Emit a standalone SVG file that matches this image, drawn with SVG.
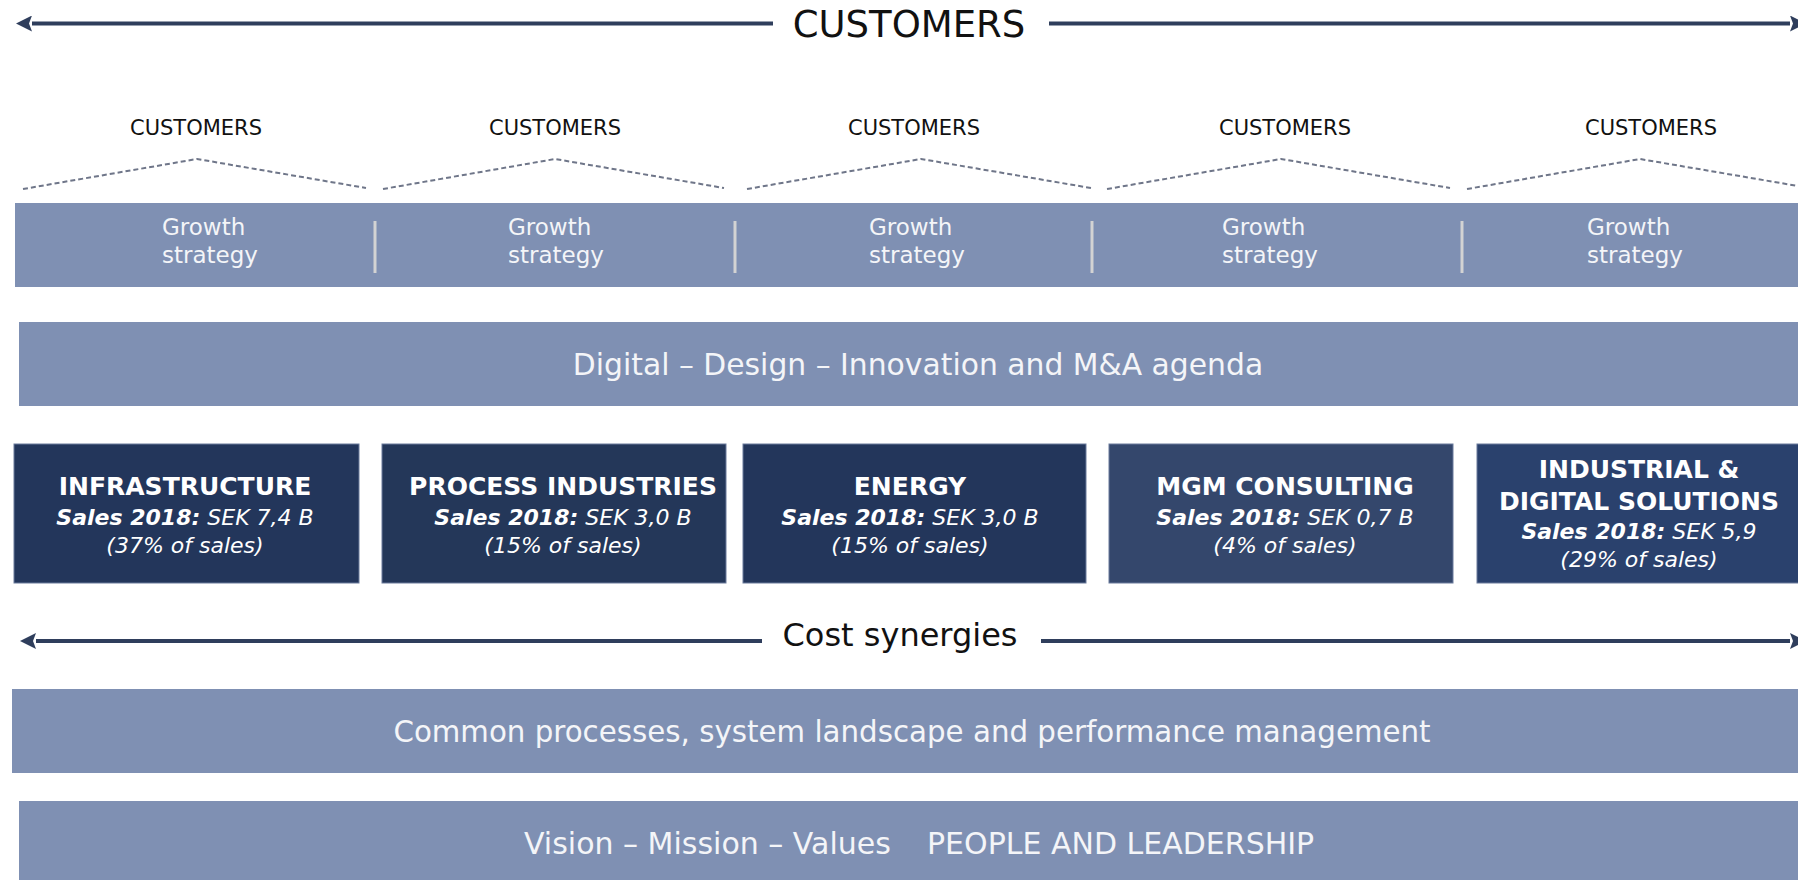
<svg xmlns="http://www.w3.org/2000/svg" width="1798" height="880" viewBox="0 0 1798 880">
  <style>
    .band { fill: #7f90b3; }
    .band-text { font-family: "DejaVu Sans", Verdana, sans-serif; fill: #f4f5f8; text-anchor: middle; }
    .band-text.left { text-anchor: start; }
    .growth-text { font-family: "DejaVu Sans", Verdana, sans-serif; font-size: 23px; fill: #f4f5f8; }
    .sep { stroke: #d3d3d3; stroke-width: 3; }
    .label { font-family: "DejaVu Sans", Verdana, sans-serif; fill: #111111; text-anchor: middle; }
    .chev { fill: none; stroke: #6f7689; stroke-width: 2; stroke-dasharray: 5 3; }
    .axis { stroke: #2f3e5c; stroke-width: 4; fill: none; marker-end: url(#arrow); }
    .unit { stroke: #6a7b9c; stroke-width: 1; }
    .unit-text { font-family: "DejaVu Sans", Verdana, sans-serif; fill: #ffffff; text-anchor: middle; font-size: 22px; }
    .title { font-weight: bold; font-size: 25px; }
    .it { font-style: italic; }
    .bi { font-style: italic; font-weight: bold; }
  </style>
  <defs>
    <marker id="arrow" viewBox="0 0 16 16" refX="0" refY="8" markerWidth="16" markerHeight="16" markerUnits="userSpaceOnUse" orient="auto">
      <path d="M0,0 L16,8 L0,16 L3,8 Z" fill="#2f3e5c"/>
    </marker>
  </defs>

  <!-- connectors: customer axis, cost-synergy axis and customer chevrons -->
  <g id="connectors">
    <line class="axis" x1="773" y1="23.5" x2="32" y2="23.5"/>
    <line class="axis" x1="1049" y1="23.5" x2="1790" y2="23.5"/>
    <line class="axis" x1="762" y1="641" x2="36" y2="641"/>
    <line class="axis" x1="1041" y1="641" x2="1790" y2="641"/>
    <polyline class="chev" points="23,189 197,159 366,188"/>
    <polyline class="chev" points="383,189 555,159 724,188"/>
    <polyline class="chev" points="747,189 921,159 1091,188"/>
    <polyline class="chev" points="1107,189 1281,159 1450,188"/>
    <polyline class="chev" points="1467,189 1640,159 1798,186"/>
  </g>

  <g id="customers-axis-label">
    <text class="label" x="909" y="37" font-size="37">CUSTOMERS</text>
  </g>

  <g id="customer-labels">
    <text class="label" x="196" y="135" font-size="21">CUSTOMERS</text>
    <text class="label" x="555" y="135" font-size="21">CUSTOMERS</text>
    <text class="label" x="914" y="135" font-size="21">CUSTOMERS</text>
    <text class="label" x="1285" y="135" font-size="21">CUSTOMERS</text>
    <text class="label" x="1651" y="135" font-size="21">CUSTOMERS</text>
  </g>

  <g id="growth-strategy">
    <rect class="band" x="15" y="203" width="1783" height="84"/>
    <line class="sep" x1="375" y1="221" x2="375" y2="273"/>
    <line class="sep" x1="735" y1="221" x2="735" y2="273"/>
    <line class="sep" x1="1092" y1="221" x2="1092" y2="273"/>
    <line class="sep" x1="1462" y1="221" x2="1462" y2="273"/>
    <text class="growth-text" x="162" y="235">Growth<tspan x="162" y="263">strategy</tspan></text>
    <text class="growth-text" x="508" y="235">Growth<tspan x="508" y="263">strategy</tspan></text>
    <text class="growth-text" x="869" y="235">Growth<tspan x="869" y="263">strategy</tspan></text>
    <text class="growth-text" x="1222" y="235">Growth<tspan x="1222" y="263">strategy</tspan></text>
    <text class="growth-text" x="1587" y="235">Growth<tspan x="1587" y="263">strategy</tspan></text>
  </g>

  <g id="digital-agenda">
    <rect class="band" x="19" y="322" width="1779" height="84"/>
    <text class="band-text" x="918" y="375" font-size="29.8">Digital – Design – Innovation and M&amp;A agenda</text>
  </g>

  <g id="infrastructure">
    <rect class="unit" x="14" y="444" width="345" height="139" fill="#23365b"/>
    <text class="unit-text" x="185" y="495"><tspan class="title">INFRASTRUCTURE</tspan></text>
    <text class="unit-text" x="185" y="525"><tspan class="bi">Sales 2018:</tspan><tspan class="it"> SEK 7,4 B</tspan></text>
    <text class="unit-text it" x="185" y="553">(37% of sales)</text>
  </g>

  <g id="process-industries">
    <rect class="unit" x="382" y="444" width="344" height="139" fill="#243759"/>
    <text class="unit-text" x="563" y="495"><tspan class="title">PROCESS INDUSTRIES</tspan></text>
    <text class="unit-text" x="563" y="525"><tspan class="bi">Sales 2018:</tspan><tspan class="it"> SEK 3,0 B</tspan></text>
    <text class="unit-text it" x="563" y="553">(15% of sales)</text>
  </g>

  <g id="energy">
    <rect class="unit" x="743" y="444" width="343" height="139" fill="#23365b"/>
    <text class="unit-text" x="910" y="495"><tspan class="title">ENERGY</tspan></text>
    <text class="unit-text" x="910" y="525"><tspan class="bi">Sales 2018:</tspan><tspan class="it"> SEK 3,0 B</tspan></text>
    <text class="unit-text it" x="910" y="553">(15% of sales)</text>
  </g>

  <g id="mgm-consulting">
    <rect class="unit" x="1109" y="444" width="344" height="139" fill="#34476c"/>
    <text class="unit-text" x="1285" y="495"><tspan class="title">MGM CONSULTING</tspan></text>
    <text class="unit-text" x="1285" y="525"><tspan class="bi">Sales 2018:</tspan><tspan class="it"> SEK 0,7 B</tspan></text>
    <text class="unit-text it" x="1285" y="553">(4% of sales)</text>
  </g>

  <g id="industrial-digital-solutions">
    <rect class="unit" x="1477" y="444" width="330" height="139" fill="#2a416d"/>
    <text class="unit-text" x="1639" y="478"><tspan class="title">INDUSTRIAL &amp;</tspan></text>
    <text class="unit-text" x="1639" y="510"><tspan class="title">DIGITAL SOLUTIONS</tspan></text>
    <text class="unit-text" x="1639" y="539"><tspan class="bi">Sales 2018:</tspan><tspan class="it"> SEK 5,9</tspan></text>
    <text class="unit-text it" x="1639" y="567">(29% of sales)</text>
  </g>

  <g id="cost-synergies-label">
    <text class="label" x="900" y="646" font-size="32">Cost synergies</text>
  </g>

  <g id="common-processes">
    <rect class="band" x="12" y="689" width="1786" height="84"/>
    <text class="band-text" x="912" y="742" font-size="29.3">Common processes, system landscape and performance management</text>
  </g>

  <g id="vision-mission-values">
    <rect class="band" x="19" y="801" width="1779" height="79"/>
    <text class="band-text left" y="854" font-size="30"><tspan x="524">Vision – Mission – Values</tspan><tspan x="927">PEOPLE AND LEADERSHIP</tspan></text>
  </g>
</svg>
